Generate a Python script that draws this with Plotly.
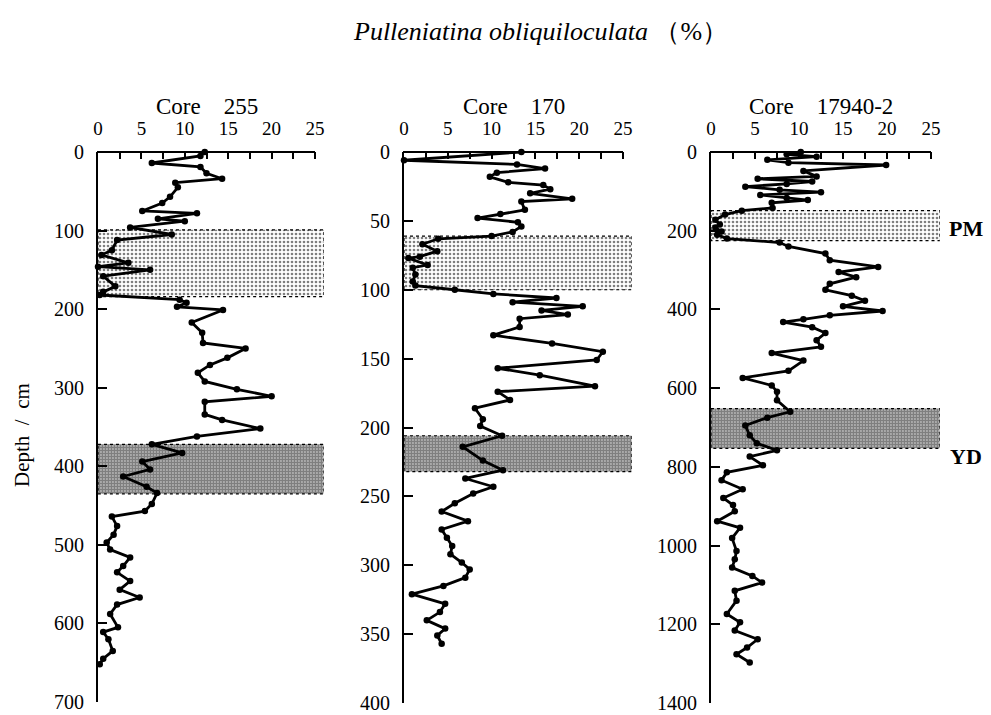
import plotly.graph_objects as go

# ---------------- data ----------------
core255_depth = [0, 5, 14, 19, 27, 34, 39, 45, 57, 65, 75, 78, 85, 88, 96, 105, 112, 125, 131, 141, 146, 150,
                 158, 171, 178, 182, 188, 192, 197, 201, 217, 230, 243, 250, 262, 271, 281, 292, 302, 311, 318,
                 334, 341, 352, 362, 372, 383, 394, 404, 413, 426, 434, 448, 457, 464, 476, 487, 497, 506, 516,
                 527, 535, 546, 557, 567, 576, 588, 605, 611, 620, 635, 645, 652]
core255_pct = [12.3, 11.8, 6.2, 11.8, 12.5, 14.3, 8.9, 9.2, 8.3, 7.4, 5.1, 11.4, 6.9, 10.0, 3.7, 8.5, 2.2, 1.6,
               0.4, 3.5, 0.0, 6.0, 0.6, 2.0, 0.6, 0.2, 9.4, 10.2, 9.1, 14.4, 10.8, 12.0, 12.1, 17.0, 14.9, 12.9,
               11.5, 12.3, 16.0, 20.0, 12.3, 12.3, 14.3, 18.7, 11.4, 6.2, 9.7, 5.1, 6.0, 2.9, 5.6, 6.8, 6.2, 5.4,
               1.6, 2.2, 1.8, 1.0, 1.4, 3.7, 2.9, 2.2, 3.7, 2.5, 4.8, 2.2, 1.4, 2.3, 0.6, 1.2, 1.7, 0.6, 0.2]

core170_depth = [0, 6, 9, 12, 15, 18, 22, 24, 27, 30, 34, 36, 42, 45, 48, 51, 54, 58, 61, 63, 67, 72, 76, 77,
                 82, 84, 89, 94, 97, 100, 103, 106, 109, 112, 115, 118, 121, 127, 133, 139, 145, 151, 157, 162,
                 170, 174, 180, 186, 194, 199, 206, 214, 224, 231, 237, 243, 248, 255, 261, 268, 274, 280, 286,
                 292, 298, 303, 309, 315, 321, 328, 334, 340, 346, 351, 357]
core170_pct = [13.4, 0.0, 12.9, 16.1, 10.6, 9.8, 11.9, 15.9, 16.7, 14.4, 19.2, 13.4, 13.8, 11.0, 8.4, 13.0,
               13.4, 12.4, 10.0, 3.9, 2.1, 3.8, 1.8, 0.5, 2.7, 1.0, 1.3, 1.0, 1.3, 5.8, 10.2, 17.4, 12.4, 20.4,
               15.7, 18.7, 13.2, 13.2, 10.2, 16.9, 22.7, 22.0, 10.7, 15.5, 21.8, 10.7, 12.1, 8.1, 9.0, 8.7,
               11.2, 6.7, 9.0, 11.3, 7.0, 10.2, 7.9, 5.8, 4.3, 7.3, 4.3, 4.9, 5.5, 5.3, 6.6, 7.5, 7.0, 4.5,
               0.9, 4.7, 4.1, 2.6, 4.7, 3.8, 4.3]

core17940_depth = [0, 6, 12, 20, 27, 33, 48, 62, 68, 75, 81, 88, 96, 102, 109, 117, 122, 129, 142, 149, 159,
                   172, 184, 192, 202, 210, 220, 230, 240, 258, 275, 292, 305, 318, 335, 350, 365, 378, 392,
                   404, 415, 425, 432, 445, 460, 478, 495, 511, 530, 556, 574, 593, 609, 631, 660, 675, 695,
                   720, 740, 758, 774, 796, 814, 834, 857, 879, 897, 913, 938, 955, 981, 1014, 1035, 1056,
                   1077, 1094, 1115, 1140, 1174, 1195, 1216, 1238, 1259, 1276, 1297]
core17940_pct = [10.2, 8.6, 12.0, 6.4, 8.8, 19.9, 10.5, 12.0, 5.3, 11.5, 8.6, 3.9, 7.8, 12.5, 5.6, 8.6, 11.0,
                 6.9, 7.0, 3.5, 1.6, 0.5, 1.0, 0.5, 1.2, 0.7, 1.8, 7.8, 8.8, 13.0, 13.5, 19.0, 14.5, 16.5,
                 13.5, 13.0, 16.0, 17.5, 15.0, 19.5, 13.5, 10.5, 8.2, 11.5, 13.0, 12.0, 12.5, 6.9, 10.5, 8.8,
                 3.6, 6.9, 7.5, 7.5, 9.0, 6.4, 3.9, 4.4, 5.2, 7.5, 4.4, 5.9, 1.8, 1.2, 3.6, 1.4, 2.5, 2.7,
                 0.7, 3.3, 2.4, 2.9, 2.7, 2.4, 4.7, 5.8, 2.7, 2.9, 1.8, 3.3, 2.7, 5.3, 4.1, 2.9, 4.4]

core_names = ["Core\u2002\u2002255", "Core\u2002\u2002170", "Core\u2002\u200217940-2"]
# shaded intervals (depth top, depth bottom): PM (light), YD (dark)
pm_intervals = [(99, 184), (61, 100), (149, 225)]
yd_intervals = [(372, 435), (206, 232), (652, 753)]
depth_max = [700, 400, 1400]
depth_dtick = [100, 50, 200]
pct_ticks = [0, 5, 10, 15, 20, 25]

# ---------------- layout geometry (pixels) ----------------
W, H = 991, 715
x0_px = [98, 404, 711]
px_per_unit = [8.68, 8.76, 8.8]
XMAX = 26  # range shown (boxes extend to here), axis line ends at 25
top_px = 152
bottom_px = [702, 703, 703]

fig = go.Figure()
serif = "Liberation Serif, Times New Roman, serif"

series = [(core255_depth, core255_pct), (core170_depth, core170_pct), (core17940_depth, core17940_pct)]

for i in range(3):
    xa = "x" if i == 0 else f"x{i+1}"
    ya = "y" if i == 0 else f"y{i+1}"
    # shaded boxes
    for (d0, d1), pat in [(pm_intervals[i], dict(shape=".", fgcolor="black", bgcolor="white", size=4, solidity=0.35)),
                          (yd_intervals[i], dict(shape=".", fgcolor="black", bgcolor="white", size=3, solidity=0.8))]:
        fig.add_trace(go.Scatter(
            x=[0, XMAX, XMAX, 0, 0], y=[d0, d0, d1, d1, d0], xaxis=xa, yaxis=ya,
            mode="lines", fill="toself", fillpattern=pat, fillcolor="white",
            line=dict(color="black", width=1.2, dash="dot"), hoverinfo="skip"))
    d, p = series[i]
    fig.add_trace(go.Scatter(
        x=p, y=d, xaxis=xa, yaxis=ya, mode="lines+markers",
        line=dict(color="black", width=2.8), marker=dict(color="black", size=6.5),
        cliponaxis=False))

    dom_x = [x0_px[i] / W, (x0_px[i] + XMAX * px_per_unit[i]) / W]
    dom_y = [1 - bottom_px[i] / H, 1 - top_px / H]
    xkey = "xaxis" if i == 0 else f"xaxis{i+1}"
    ykey = "yaxis" if i == 0 else f"yaxis{i+1}"
    fig.layout[xkey] = dict(
        domain=dom_x, range=[0, XMAX], side="top", anchor=ya, showline=False, showgrid=False, zeroline=False,
        tickmode="array", tickvals=pct_ticks, ticks="inside", ticklen=7, tickwidth=2, tickcolor="black",
        minor=dict(dtick=2.5, tick0=0, ticks="inside", ticklen=7, tickwidth=2, tickcolor="black", showgrid=False),
        tickfont=dict(family=serif, size=19, color="black"), ticklabelstandoff=12, automargin=False,
        ticklabeloverflow="allow", fixedrange=True)
    fig.layout[ykey] = dict(
        domain=dom_y, range=[depth_max[i], 0], anchor=xa, showline=True, linecolor="black", linewidth=2,
        showgrid=False, zeroline=False, tickmode="linear", tick0=0, dtick=depth_dtick[i],
        ticks="inside", ticklen=9, tickwidth=2, tickcolor="black",
        tickfont=dict(family=serif, size=20, color="black"), ticklabelstandoff=8, automargin=False,
        ticklabeloverflow="allow", fixedrange=True)

    # top axis line, from 0 to 25 only
    xa0 = dom_x[0]
    xa25 = dom_x[0] + (25 / XMAX) * (dom_x[1] - dom_x[0])
    fig.add_shape(type="line", xref="paper", yref="paper", x0=xa0 - 1 / W, x1=xa25, y0=dom_y[1], y1=dom_y[1],
                  line=dict(color="black", width=2))
    # core titles
    fig.add_annotation(text=core_names[i], xref="paper", yref="paper", xanchor="center", yanchor="middle",
                       x=(xa0 + xa25) / 2, y=1 - 107 / H, showarrow=False,
                       font=dict(family=serif, size=23, color="black"))

# main title
fig.add_annotation(text="<i>Pulleniatina obliquiloculata</i> （%）", xref="paper", yref="paper",
                   xanchor="center", yanchor="middle",
                   x=540 / W, y=1 - 32 / H, showarrow=False, font=dict(family=serif, size=26, color="black"))
# y title
fig.add_annotation(text="Depth\u2002/\u2002cm", xref="paper", yref="paper", x=22 / W, y=1 - 435 / H,
                   xanchor="center", yanchor="middle",
                   textangle=-90, showarrow=False, font=dict(family=serif, size=21, color="black"))
# PM / YD labels
fig.add_annotation(text="<b>PM</b>", xref="paper", yref="paper", x=966 / W, y=1 - 228 / H, showarrow=False,
                   xanchor="center", yanchor="middle", font=dict(family=serif, size=22, color="black"))
fig.add_annotation(text="<b>YD</b>", xref="paper", yref="paper", x=966 / W, y=1 - 456 / H, showarrow=False,
                   xanchor="center", yanchor="middle", font=dict(family=serif, size=22, color="black"))

fig.update_layout(width=W, height=H, margin=dict(l=0, r=0, t=0, b=0, pad=0, autoexpand=False),
                  showlegend=False, font=dict(family=serif, color="black"),
                  plot_bgcolor="white", paper_bgcolor="white")
fig.write_html("out.html")
